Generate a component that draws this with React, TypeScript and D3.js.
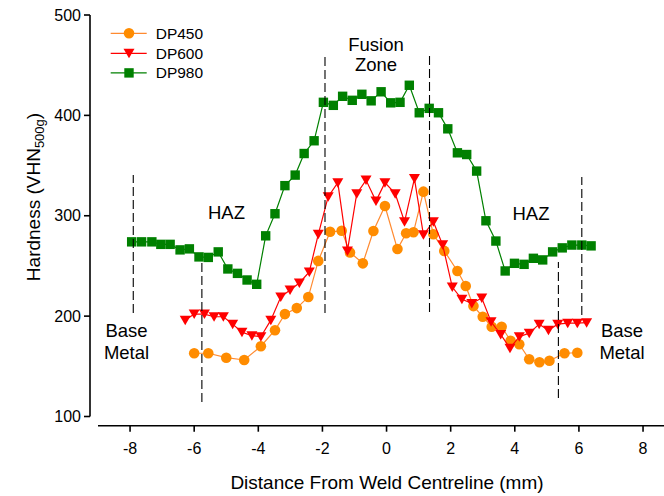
import React from "react";
import * as d3 from "d3";

const dp450X = [-6.0,-5.56,-5.0,-4.44,-3.92,-3.48,-3.17,-2.80,-2.44,-2.13,-1.76,-1.40,-1.14,-0.74,-0.41,-0.05,0.34,0.61,0.84,1.15,1.46,1.80,2.21,2.47,2.71,3.0,3.28,3.59,3.87,4.14,4.45,4.77,5.08,5.55,5.95];
const dp450Y = [163,163,158.6,156.3,170,186,202,208,219,255,284,285,263.5,252.6,284.8,309.7,266.8,282.5,283.5,324,281.5,265,245,230,210,199.4,189.4,189.4,175.5,172,157,154,155.6,163,163.5];

const dp600X = [-6.28,-6.0,-5.68,-5.38,-5.09,-4.80,-4.51,-4.20,-3.92,-3.61,-3.30,-3.01,-2.72,-2.41,-2.13,-1.82,-1.52,-1.22,-0.93,-0.64,-0.33,-0.05,0.27,0.56,0.87,1.15,1.46,1.75,2.05,2.35,2.66,2.97,3.26,3.56,3.85,4.14,4.45,4.76,5.05,5.34,5.65,5.95,6.24];
const dp600Y = [196,202,202,199.4,199.4,192,184,180.5,179.5,196,219,226,233,244,281.5,319,333,265,322,335.5,314.6,333,322,294,337,281,294,271,229,216.7,212.7,218,194.4,181.8,168,179.5,183,192,186,192,193,193,193.5];

const dp980X = [-7.95,-7.64,-7.32,-7.04,-6.75,-6.44,-6.15,-5.85,-5.56,-5.25,-4.95,-4.65,-4.35,-4.05,-3.77,-3.48,-3.17,-2.85,-2.57,-2.26,-1.97,-1.66,-1.37,-1.07,-0.77,-0.48,-0.17,0.13,0.42,0.71,1.02,1.33,1.62,1.91,2.21,2.50,2.81,3.10,3.41,3.70,3.99,4.29,4.58,4.87,5.18,5.48,5.78,6.09,6.38];
const dp980Y = [274,274,274,271.5,271.5,266,267,259,258.5,264,247,242.6,236,231.7,280,302,330,340.5,362,374.7,413,410,419,415,421,414.5,423.5,412.5,413,430,402.6,407,402.6,386.6,362.7,361,344.5,295,274.8,245,252.6,251.6,257.6,256,264,268,270.8,270.8,270];

const xTicks = [-8,-6,-4,-2,0,2,4,6,8];
const yTicks = [100,200,300,400,500];

const dashX = [-7.9, -5.76, -1.92, 1.34, 5.36, 6.09];
const dashY0 = [203, 114.4, 203, 204, 118.4, 201];
const dashY1 = [340.5, 253, 461.6, 461.6, 254, 338.5];

const seriesNames = ["DP450", "DP600", "DP980"];

const FONT = "'Liberation Sans', Arial, Helvetica, sans-serif";

export default function App() {
  const x = d3.scaleLinear().domain([-9, 9]).range([98, 675.1]);
  const y = d3.scaleLinear().domain([100, 500]).range([416.5, 15]);
  const line = d3.line<[number, number]>().x(d => x(d[0])).y(d => y(d[1]));

  const series = [
    { name: seriesNames[0], xs: dp450X, ys: dp450Y, color: "#ff8c00", lineColor: "#ff8a30", shape: "circle" },
    { name: seriesNames[1], xs: dp600X, ys: dp600Y, color: "#ff0000", lineColor: "#ff0000", shape: "tri" },
    { name: seriesNames[2], xs: dp980X, ys: dp980Y, color: "#008000", lineColor: "#008000", shape: "square" },
  ];

  const marker = (shape: string, cx: number, cy: number, color: string, key: any) => {
    if (shape === "circle") return <circle key={key} cx={cx} cy={cy} r={5.3} fill={color} />;
    if (shape === "square") return <rect key={key} x={cx - 4.7} y={cy - 4.7} width={9.4} height={9.4} fill={color} />;
    const p = `M${cx - 5.5},${cy - 4.5}L${cx + 5.5},${cy - 4.5}L${cx},${cy + 5}Z`;
    return <path key={key} d={p} fill={color} />;
  };

  const axisY = 425.7;
  const legendRows = [33.3, 53.3, 72.9];

  return (
    <svg width={664} height={496} style={{ position: "absolute", left: 0, top: 0, background: "#fff" }} fontFamily={FONT}>
      <rect width={664} height={496} fill="#fff" />
      {/* Y axis */}
      <line x1={90} x2={90} y1={y(500)} y2={y(100)} stroke="#000" strokeWidth={1.6} />
      {yTicks.map(t => (
        <g key={"yt" + t}>
          <line x1={84} x2={90} y1={y(t)} y2={y(t)} stroke="#000" strokeWidth={1.6} />
          <text x={81} y={y(t)} dy="0.35em" textAnchor="end" fontSize={16}>{t}</text>
        </g>
      ))}
      {/* X axis */}
      <line x1={x(-9)} x2={x(9)} y1={axisY} y2={axisY} stroke="#000" strokeWidth={1.6} />
      {xTicks.map(t => (
        <g key={"xt" + t}>
          <line x1={x(t)} x2={x(t)} y1={axisY} y2={axisY + 6} stroke="#000" strokeWidth={1.6} />
          <text x={x(t)} y={453.5} textAnchor="middle" fontSize={16}>{t}</text>
        </g>
      ))}
      <text x={387} y={489} textAnchor="middle" fontSize={19}>Distance From Weld Centreline (mm)</text>
      <text transform={`translate(40,197) rotate(-90)`} textAnchor="middle" fontSize={19}>
        Hardness (VHN<tspan fontSize={13} dy={4}>500g</tspan><tspan dy={-4}>)</tspan>
      </text>

      {/* series */}
      {series.map(s => {
        const pts: [number, number][] = s.xs.map((v, i) => [v, s.ys[i]]);
        return (
          <g key={s.name}>
            <path d={line(pts) || ""} fill="none" stroke={s.lineColor} strokeWidth={1.2} />
            {pts.map((p, i) => marker(s.shape, x(p[0]), y(p[1]), s.color, i))}
          </g>
        );
      })}

      {/* dashed region lines */}
      {dashX.map((d, i) => (
        <line key={"dl" + i} x1={x(d)} x2={x(d)} y1={y(dashY0[i])} y2={y(dashY1[i])} stroke="#000" strokeWidth={1.1} strokeDasharray="9,4" />
      ))}

      {/* annotations */}
      <g fontSize={18.5} textAnchor="middle">
        <text x={376} y={50.7}>Fusion</text>
        <text x={376} y={70.7}>Zone</text>
        <text x={226.5} y={219.3}>HAZ</text>
        <text x={531} y={220}>HAZ</text>
        <text x={126.5} y={336.7}>Base</text>
        <text x={126.5} y={358.5}>Metal</text>
        <text x={622} y={336.7}>Base</text>
        <text x={622} y={358.5}>Metal</text>
      </g>

      {/* legend */}
      {series.map((s, i) => (
        <g key={"lg" + i}>
          <line x1={110.7} x2={146.7} y1={legendRows[i]} y2={legendRows[i]} stroke={s.lineColor} strokeWidth={1.2} />
          {marker(s.shape, 129, legendRows[i], s.color, "m")}
          <text x={155.7} y={legendRows[i]} dy="0.36em" fontSize={15.5}>{s.name}</text>
        </g>
      ))}
    </svg>
  );
}
